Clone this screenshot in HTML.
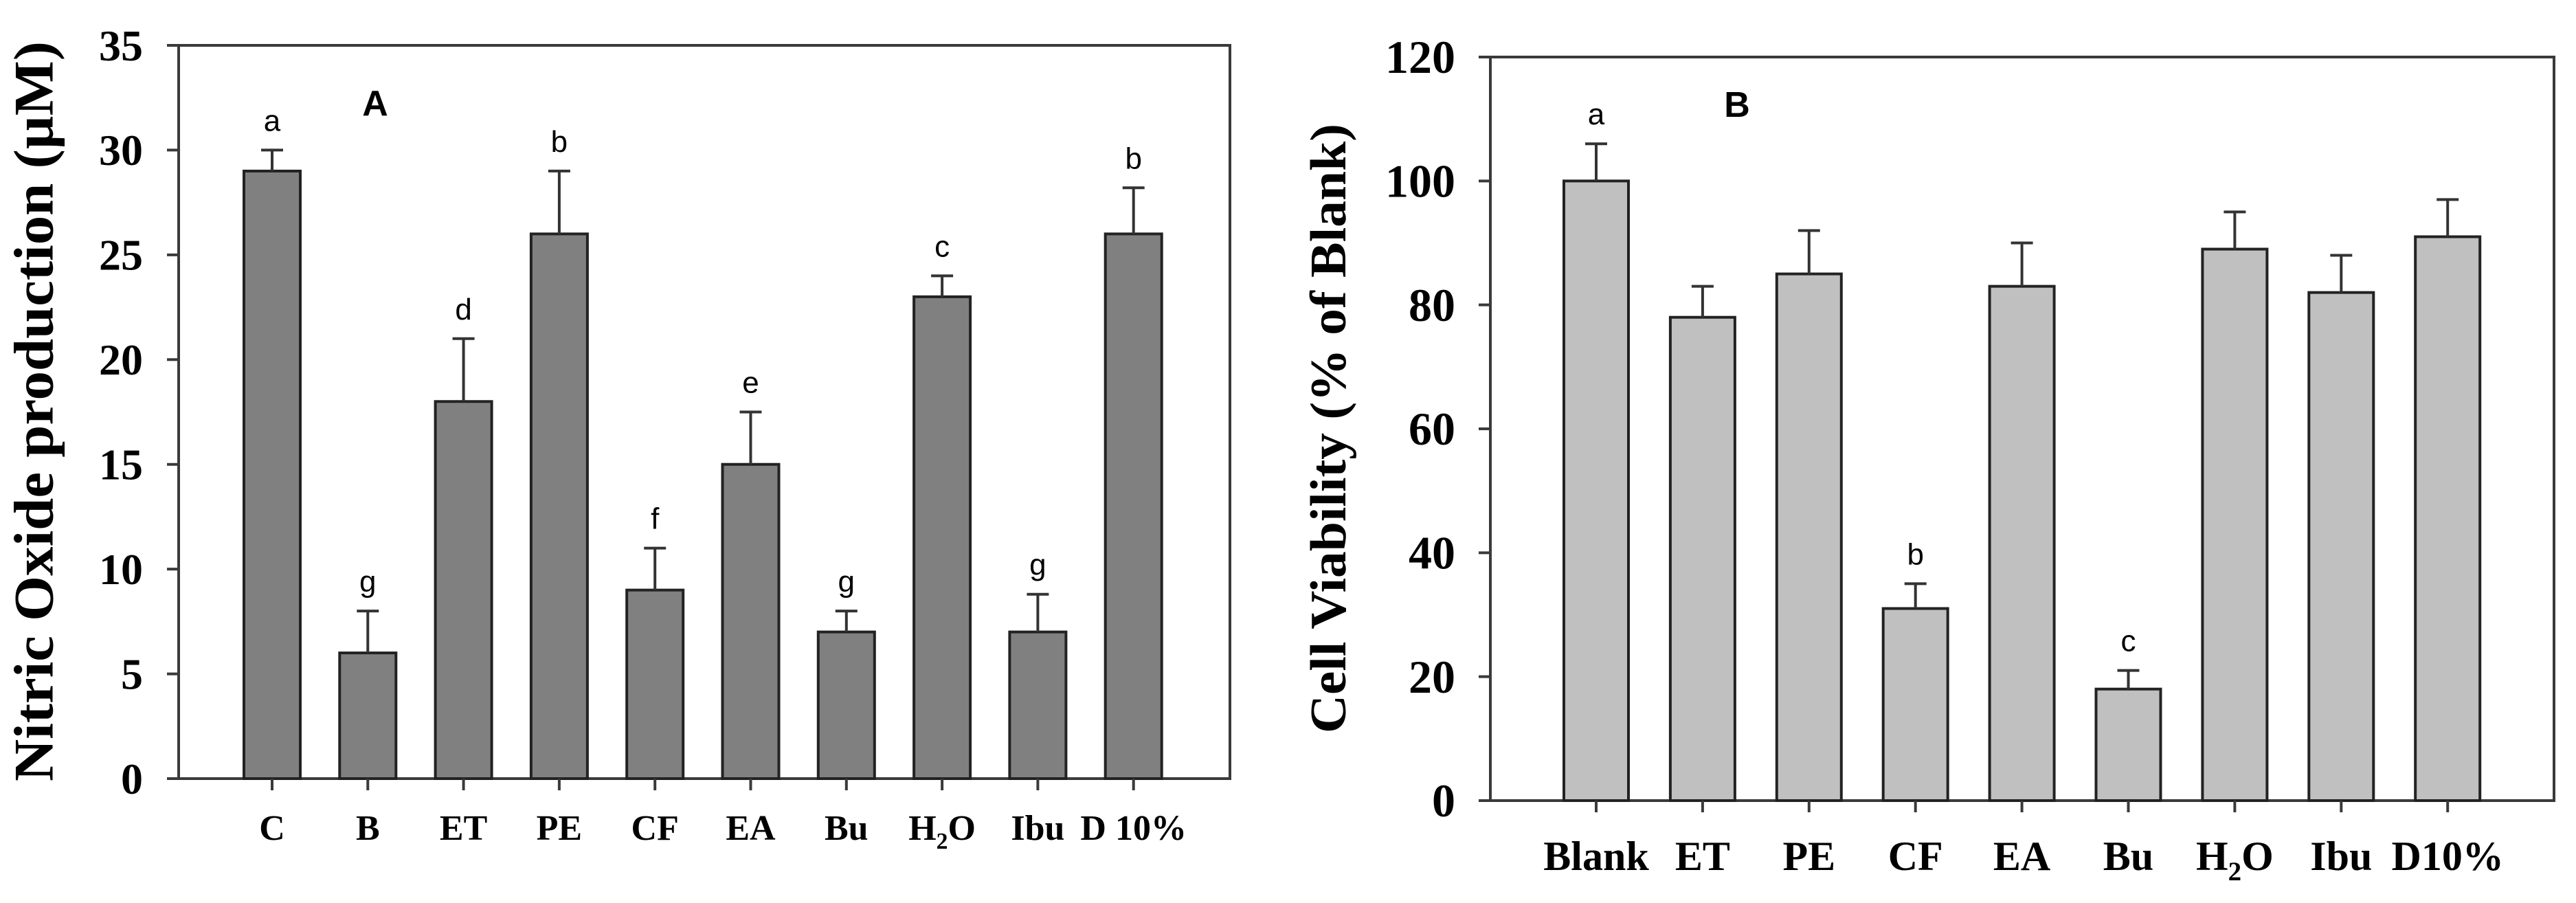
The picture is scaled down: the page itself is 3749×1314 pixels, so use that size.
<!DOCTYPE html>
<html><head><meta charset="utf-8"><style>
html,body{margin:0;padding:0;background:#fff;}
svg{display:block;}
.tk{font-family:"Liberation Serif",serif;font-weight:bold;}
.lt{font-family:"Liberation Sans",sans-serif;}
</style></head><body>
<svg id="chart" width="3749" height="1314" viewBox="0 0 3749 1314" xmlns="http://www.w3.org/2000/svg">
<rect width="3749" height="1314" fill="#fff"/>
<g id="pa"></g>
<g id="pb"></g>
</svg>
<script>
const catsA = ["C","B","ET","PE","CF","EA","Bu","H2O","Ibu","D 10%"];
const valsA = [29,6,18,26,9,15,7,23,7,26];
const errA = [1,2,3,3,2,2.5,1,1,1.8,2.2];
const lettersA = ["a","g","d","b","f","e","g","c","g","b"];
const ticksA = [0,5,10,15,20,25,30,35];

const catsB = ["Blank","ET","PE","CF","EA","Bu","H2O","Ibu","D10%"];
const valsB = [100,78,85,31,83,18,89,82,91];
const errB = [6,5,7,4,7,3,6,6,6];
const lettersB = ["a","","","b","","c","","",""];
const ticksB = [0,20,40,60,80,100,120];

const NS="http://www.w3.org/2000/svg";
function mk(parent,tag,attrs){const e=document.createElementNS(NS,tag);for(const k in attrs)e.setAttribute(k,attrs[k]);parent.appendChild(e);return e;}

function panel(g,cfg){
  const {x0,x1,y0,y1,max,cats,vals,errs,letters,ticks,c0,step,bw,fill,tickFs,tickRight,xlFs,xlY,title,titleX,titleY0,titleY1,titleFs,panelLabel,plX,plY}=cfg;
  const ys=v=>y0-(v/max)*(y0-y1);
  const xs=i=>c0+i*step;
  // frame
  const fr=mk(g,'rect',{x:x0,y:y1,width:x1-x0,height:y0-y1,fill:'none',stroke:'#3a3a3a','stroke-width':4});
  
  
  ticks.forEach(t=>{
    const l=mk(g,'line',{x1:x0-17,x2:x0,y1:ys(t),y2:ys(t),stroke:'#3a3a3a','stroke-width':4});
    
    
    const tx=mk(g,'text',{x:tickRight,y:ys(t)+tickFs*0.34,'text-anchor':'end','font-size':tickFs,class:'tk',fill:'#000'});
    tx.textContent=t;
    
    
  });
  cats.forEach((c,i)=>{
    const cx=xs(i);
    const top=ys(vals[i]);
    const b=mk(g,'rect',{x:cx-bw/2,y:top,width:bw,height:y0-top,fill:fill,stroke:'#222','stroke-width':4});
    
    
    const et=ys(vals[i]+errs[i]);
    const e1=mk(g,'line',{x1:cx,x2:cx,y1:top,y2:et,stroke:'#333','stroke-width':4});
    
    
    const e2=mk(g,'line',{x1:cx-16,x2:cx+16,y1:et,y2:et,stroke:'#333','stroke-width':4});
    
    
    if(letters[i]){
      const lt=mk(g,'text',{x:cx,y:et-28,'text-anchor':'middle','font-size':44,class:'lt',fill:'#000'});
      lt.textContent=letters[i];
      
      
    }
    const xt=mk(g,'line',{x1:cx,x2:cx,y1:y0,y2:y0+17,stroke:'#3a3a3a','stroke-width':4});
    
    
    const xl=mk(g,'text',{x:cx,y:xlY,'text-anchor':'middle','font-size':xlFs,class:'tk',fill:'#000'});
    
    
    if(c==="H2O"){
      xl.appendChild(document.createTextNode('H'));
      const s=document.createElementNS(NS,'tspan');s.setAttribute('font-size',xlFs*0.65);s.setAttribute('dy',xlFs*0.25);s.textContent='2';xl.appendChild(s);
      const o=document.createElementNS(NS,'tspan');o.setAttribute('dy',-xlFs*0.25);o.textContent='O';xl.appendChild(o);
    } else xl.textContent=c;
  });
  const tcx=titleX, tcy=(titleY0+titleY1)/2;
  const tt=mk(g,'text',{x:tcx,y:tcy,'text-anchor':'middle','font-size':titleFs,class:'tk',fill:'#000',transform:`rotate(-90 ${tcx} ${tcy})`,dy:titleFs*0.35,textLength:titleY1-titleY0,lengthAdjust:'spacingAndGlyphs'});
  tt.textContent=title;
  
  
  const pl=mk(g,'text',{x:plX,y:plY,'text-anchor':'middle','font-size':52,class:'lt','font-weight':'bold',fill:'#000'});
  pl.textContent=panelLabel;
  
  
}

panel(document.getElementById('pa'),{x0:260,x1:1790,y0:1133,y1:66,max:35,cats:catsA,vals:valsA,errs:errA,letters:lettersA,ticks:ticksA,
  c0:396,step:139.3,bw:82,fill:'#808080',tickFs:64,tickRight:208,xlFs:52,xlY:1222,title:'Nitric Oxide production (\u00b5M)',titleX:48,titleY0:60,titleY1:1137,titleFs:82,panelLabel:'A',plX:546,plY:168});
panel(document.getElementById('pb'),{x0:2169,x1:3717,y0:1165,y1:83,max:120,cats:catsB,vals:valsB,errs:errB,letters:lettersB,ticks:ticksB,
  c0:2323,step:154.9,bw:94,fill:'#c0c0c0',tickFs:68,tickRight:2118,xlFs:60,xlY:1266,title:'Cell Viability (% of Blank)',titleX:1932,titleY0:180,titleY1:1067,titleFs:74,panelLabel:'B',plX:2528,plY:170});
</script>
</body></html>
